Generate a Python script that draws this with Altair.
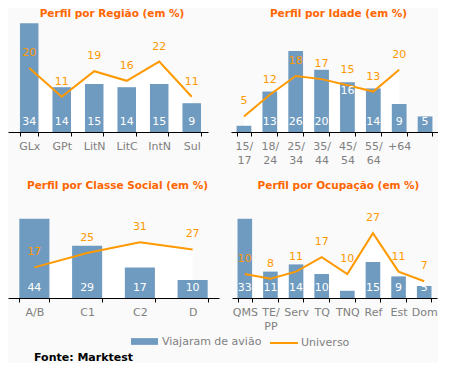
import altair as alt
import pandas as pd

# ---- data ----
regiao_cats = ["GLx", "GPt", "LitN", "LitC", "IntN", "Sul"]
regiao_aviao = [34, 14, 15, 14, 15, 9]
regiao_universo = [20, 11, 19, 16, 22, 11]

idade_cats = ["15/ 17", "18/ 24", "25/ 34", "35/ 44", "45/ 54", "55/ 64", "+64", " "]
idade_aviao = [2, 13, 26, 20, 16, 14, 9, 5]
idade_universo = [5, 12, 18, 17, 15, 13, 20, None]

classe_cats = ["A/B", "C1", "C2", "D"]
classe_aviao = [44, 29, 17, 10]
classe_universo = [17, 25, 31, 27]

ocup_cats = ["QMS", "TE/ PP", "Serv", "TQ", "TNQ", "Ref", "Est", "Dom"]
ocup_aviao = [33, 11, 14, 10, 3, 15, 9, 5]
ocup_universo = [10, 8, 11, 17, 10, 27, 11, 7]

series = ["Viajaram de avião", "Universo"]

BAR = "#709bc0"
LINE = "#ff9900"
TITLE = "#ff6600"
BG = "#fafafa"
FONT = "DejaVu Sans"


def panel(title, cats, aviao, universo, ymax, width, height,
          title_offset=1, top_cat=None, pad_outer=0.215, align=0.5):
    df = pd.DataFrame({"cat": cats, "aviao": aviao, "universo": universo})
    xenc = alt.X(
        "cat:N", sort=cats,
        scale=alt.Scale(paddingInner=0.43, paddingOuter=pad_outer, align=align),
        axis=alt.Axis(title=None, labelAngle=0, tickBand="extent",
                      labelExpr="split(datum.label, ' ')", labelLineHeight=14,
                      minExtent=36, maxExtent=36),
    )
    yaxis = None
    ysc = alt.Scale(domain=[0, ymax], nice=False)
    base = alt.Chart(df).encode(x=xenc)

    area = base.transform_filter("isValid(datum.universo)").mark_area(color="white").encode(
        y=alt.Y("universo:Q", scale=ysc, axis=yaxis)
    )

    bars = base.transform_calculate(s1="'%s'" % series[0]).mark_bar().encode(
        y=alt.Y("aviao:Q", scale=ysc, axis=yaxis),
        color=alt.Color("s1:N", scale=alt.Scale(domain=[series[0]], range=[BAR]),
                        legend=alt.Legend(title=None, orient="none", legendX=123, legendY=308,
                                          symbolType="M-1,-0.25H1V0.25H-1Z", symbolSize=729,
                                          symbolStrokeWidth=0, labelOffset=4, padding=0)),
    )

    line = base.transform_filter("isValid(datum.universo)").transform_calculate(
        s2="'%s'" % series[1]).mark_line(strokeWidth=2).encode(
        y=alt.Y("universo:Q", scale=ysc, axis=yaxis),
        stroke=alt.Stroke("s2:N", scale=alt.Scale(domain=[series[1]], range=[LINE]),
                          legend=alt.Legend(title=None, orient="none", legendX=261, legendY=308,
                                            symbolType="stroke", symbolSize=784,
                                            symbolStrokeWidth=2, labelOffset=2, padding=0)),
    )

    excl = "datum.cat != '%s'" % top_cat if top_cat else "true"
    bar_lab = base.transform_calculate(zero="0").transform_filter(
        "datum.aviao >= 5 && " + excl
    ).mark_text(color="white", fontSize=11, font=FONT, baseline="alphabetic", dy=-7).encode(
        y=alt.Y("zero:Q", scale=ysc, axis=yaxis), text="aviao:Q"
    )
    layers = [area, bars, line, bar_lab]
    if top_cat:
        bar_lab_top = base.transform_filter(
            "datum.cat == '%s'" % top_cat
        ).mark_text(color="white", fontSize=11, font=FONT, baseline="alphabetic", dy=12).encode(
            y=alt.Y("aviao:Q", scale=ysc, axis=yaxis), text="aviao:Q"
        )
        layers.append(bar_lab_top)

    line_lab = base.transform_filter("isValid(datum.universo)").mark_text(
        color=LINE, fontSize=11, font=FONT, baseline="alphabetic", dy=-12
    ).encode(y=alt.Y("universo:Q", scale=ysc, axis=yaxis), text="universo:Q")
    layers.append(line_lab)

    return alt.layer(*layers).properties(
        width=width, height=height,
        title=alt.Title(title, offset=title_offset, dx=4),
    )


tl = panel("Perfil por Região (em %)", regiao_cats, regiao_aviao, regiao_universo,
           35, 200, 112, pad_outer=0.292, align=0.63)
tr = panel("Perfil por Idade (em %)", idade_cats, idade_aviao, idade_universo,
           36, 207, 112, top_cat="45/ 54")
bl = panel("Perfil por Classe Social (em %)", classe_cats, classe_aviao, classe_universo,
           50, 211, 90, title_offset=17)
br = panel("Perfil por Ocupação (em %)", ocup_cats, ocup_aviao, ocup_universo,
           37.5, 205, 90, title_offset=17)

chart = alt.vconcat(
    alt.hconcat(tl, tr, spacing=23),
    alt.hconcat(bl, br, spacing=13),
    spacing=12,
).properties(
    title=alt.Title("Fonte: Marktest", orient="bottom", anchor="start", dx=26, offset=4,
                    color="black", fontSize=11, fontWeight="bold", font=FONT),
).configure(
    background=BG, padding=0,
).configure_view(
    stroke=None,
).configure_axis(
    domainColor="black", tickColor="black", tickSize=4, labelColor="#808080",
    labelFont=FONT, labelFontSize=11, labelPadding=4, grid=False,
).configure_legend(
    labelFont=FONT, labelFontSize=11, labelColor="#808080",
).configure_title(
    font=FONT, fontSize=10.5, fontWeight="bold", color=TITLE,
)

chart.save("out.html", embed_options={"renderer": "svg", "actions": False})
